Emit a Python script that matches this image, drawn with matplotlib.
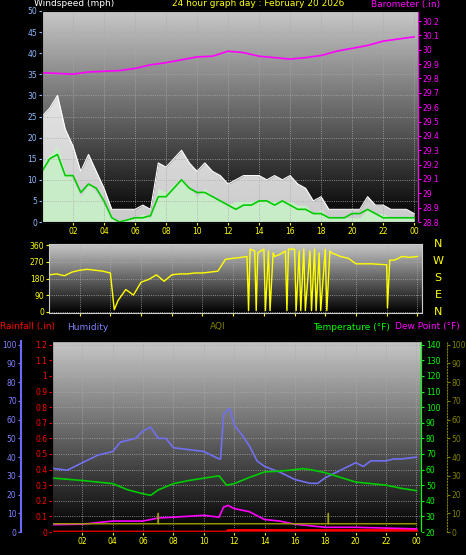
import numpy as np
import matplotlib.pyplot as plt

# ---- data ----
hrs = np.arange(0, 24.5, 0.5)
gust = [25, 27, 30, 22, 18, 12, 16, 12, 8, 3, 3, 3, 3, 4, 3, 14, 13, 15, 17, 14, 12, 14, 12, 11, 9,
        10, 11, 11, 11, 10, 11, 10, 11, 9, 8, 5, 6, 3, 3, 3, 3, 3, 6, 4, 4, 3, 3, 3, 2]
speed = [14, 16, 18, 12, 10, 6, 9, 7, 4, 1, 0, 1, 1, 2, 1, 8, 7, 9, 10, 8, 6, 8, 6, 5, 4,
         5, 5, 5, 5, 5, 5, 5, 5, 4, 4, 2, 3, 1, 1, 1, 1, 1, 3, 2, 2, 1, 1, 1, 1]
avg = [12, 15, 16, 11, 11, 7, 9, 8, 5, 1, 0, 0.5, 1, 1, 1.5, 6, 6, 8, 10, 8, 7, 7, 6, 5, 4,
       3, 4, 4, 5, 5, 4, 5, 4, 3, 3, 2, 2, 1, 1, 1, 2, 2, 3, 2, 1, 1, 1, 1, 1]
baro_h = np.arange(0, 25, 1)
baro = [29.84, 29.835, 29.83, 29.845, 29.85, 29.855, 29.87, 29.895, 29.91, 29.93, 29.95, 29.955,
        29.99, 29.98, 29.955, 29.945, 29.935, 29.945, 29.96, 29.99, 30.01, 30.03, 30.06, 30.075, 30.09]

dir_h = [0, 0.5, 1, 1.5, 2, 2.5, 3, 3.5, 4, 4.25, 4.5, 5, 5.5, 6, 6.5, 7, 7.5, 8, 8.5, 9, 9.5, 10, 10.5,
         11, 11.5, 12, 12.5, 12.9, 13.0, 13.1, 13.4, 13.5, 13.6, 14.0, 14.1, 14.3, 14.4, 14.6, 14.7, 15.0,
         15.4, 15.5, 15.6, 16.0, 16.1, 16.3, 16.4, 16.6, 16.7, 17.0, 17.1, 17.3, 17.4, 17.6, 17.7, 18.0,
         18.1, 18.3, 18.4, 19, 19.5, 20, 21, 22, 22.05, 22.2, 22.5, 23, 23.5, 24]
wdir = [200, 205, 195, 215, 225, 230, 225, 220, 210, 10, 60, 120, 90, 160, 175, 200, 165, 200, 205, 205,
        210, 210, 215, 220, 285, 290, 295, 300, 5, 340, 330, 5, 320, 340, 5, 330, 5, 320, 300, 310,
        330, 5, 340, 340, 5, 330, 5, 340, 5, 330, 5, 340, 5, 320, 5, 340, 5, 330, 320, 300, 290,
        260, 260, 255, 20, 280, 280, 300, 295, 300]

t_h = [0, 1, 1.5, 2, 3, 4, 4.5, 5.5, 6, 6.5, 7, 7.5, 8, 9, 10, 10.5, 11, 11.1, 11.3, 11.7, 12, 12.5,
       13, 13.5, 14, 15, 16, 16.5, 17, 17.5, 18, 19, 20, 20.5, 21, 22, 22.5, 23, 24]
humidity = [34, 33, 35, 37, 41, 43, 48, 50, 54, 56, 50, 50, 45, 44, 43, 41, 39, 39, 63, 66, 57, 52,
            46, 38, 35, 32, 28, 27, 26, 26, 29, 33, 37, 35, 38, 38, 39, 39, 40]
temp_h = [0, 2, 4, 5, 6, 6.5, 7, 8, 9, 10, 11, 11.5, 12, 13, 14, 15, 16, 16.5, 17, 18, 19, 20, 21, 22, 23, 24]
temp = [54.6, 53, 51, 47, 44.5, 43.5, 47, 51, 53, 54.5, 56, 50, 51, 55, 58.5, 59, 60, 60.6, 60, 58, 55,
        52, 51, 50, 48, 46.5]
dew_h = [0, 2, 4, 6, 7, 8, 10, 11, 11.3, 11.6, 12, 13, 14, 15, 16, 17, 18, 20, 22, 24]
dew = [24.7, 25, 27, 27, 29, 29.5, 30.7, 29.5, 36, 37, 35, 33, 28, 27, 25, 24, 23, 23, 22.5, 22]
rain_h = [0, 11.5, 11.6, 24]
rain = [0, 0, 0.01, 0.01]
aqi_h = [0, 6.99, 7.0, 7.01, 18.19, 18.2, 18.21, 24]
aqi = [4.4, 4.4, 10, 4.4, 4.4, 10, 4.4, 4.4]

xt = list(range(2, 25, 2))
xtl = ['%02d' % (h % 24) for h in xt]

W, H = 466, 555
FS = 5.5
fig = plt.figure(figsize=(W / 100, H / 100), dpi=100, facecolor='black')


def ax_at(l, t, r, b):
    return fig.add_axes([l / W, 1 - b / H, (r - l) / W, (b - t) / H])


grad = np.linspace(0.78, 0.0, 256).reshape(-1, 1)


def style(ax, xlim):
    ax.set_facecolor('black')
    ax.imshow(grad, cmap='gray', vmin=0, vmax=1, aspect='auto', extent=[0, 1, 0, 1],
              transform=ax.transAxes, zorder=0)
    ax.set_xlim(*xlim)
    ax.set_xticks(xt)
    ax.set_xticklabels(xtl, color='yellow', fontsize=FS)
    ax.grid(True, color='#aaaaaa', ls=':', lw=0.6)
    for s in ax.spines.values():
        s.set_color('#cccccc')
    ax.tick_params(colors='yellow', length=2, labelsize=FS, pad=1.5)


# ---- panel 1: wind + barometer ----
a1 = ax_at(42, 11, 418, 222)
style(a1, (0, 24.25))
a1.set_ylim(0, 50)
a1.set_yticks(range(0, 51, 5))
a1.tick_params(axis='y', colors='#8fb8ff')
a1.fill_between(hrs, 0, gust, color='white', alpha=0.8, lw=0)
a1.plot(hrs, gust, color='white', lw=0.8)
a1.fill_between(hrs, 0, speed, color='#c8f0c8', alpha=0.9, lw=0)
a1.plot(hrs, avg, color='#00cc00', lw=1.2)
b1 = a1.twinx()
b1.set_ylim(28.8, 30.27)
bt = np.round(np.arange(28.8, 30.25, 0.1), 1)
b1.set_yticks(bt)
b1.set_yticklabels(['%g' % v for v in bt])
b1.tick_params(colors='#ff00ff', length=2, labelsize=FS, pad=1.5)
b1.spines['right'].set_color('#ff00ff')
b1.plot(baro_h, baro, color='#ff00ff', lw=1.2)
fig.text(34 / W, 1 - 4 / H, 'Windspeed (mph)', color='white', fontsize=6.5, va='center')
fig.text(172 / W, 1 - 4 / H, '24 hour graph day : February 20 2026', color='yellow', fontsize=6.5, va='center')
fig.text(371 / W, 1 - 4 / H, 'Barometer (.in)', color='#ff00ff', fontsize=6.5, va='center')

# ---- panel 2: wind direction ----
a2 = ax_at(49, 244, 422, 313)
style(a2, (0, 24.3))
a2.set_ylim(-8, 368)
a2.set_yticks([0, 90, 180, 270, 360])
a2.set_xticklabels([])
a2.plot(dir_h, wdir, color='yellow', lw=1)
for i, c in enumerate(['N', 'W', 'S', 'E', 'N']):
    fig.text(438 / W, 1 - (244 + i * 17) / H, c, color='yellow', fontsize=8, ha='center', va='center')

# ---- labels row ----
for x, txt, col in [(0, 'Rainfall (.in)', 'red'), (67, 'Humidity', '#8080ff'), (210, 'AQI', '#808000'),
                    (313, 'Temperature (°F)', '#00ff00'), (395, 'Dew Point (°F)', '#ff00ff')]:
    fig.text(x / W, 1 - 327 / H, txt, color=col, fontsize=6.5, va='center')

# ---- panel 3: humidity / temp / rain ----
a3 = ax_at(52, 341, 421, 532)
style(a3, (0, 24.3))
a3.set_ylim(0, 1.2 * 1.02)
rt = np.round(np.arange(0, 1.21, 0.1), 1)
a3.set_yticks(rt)
a3.set_yticklabels(['%g' % v for v in rt])
a3.tick_params(axis='y', colors='red')
a3.spines['left'].set_color('red')
a3.spines['left'].set_linestyle('--')
a3.plot(rain_h, rain, color='red', lw=2, zorder=5)

hum = a3.twinx()
hum.spines['left'].set_position(('outward', 22))
hum.spines['left'].set_visible(True)
hum.spines['left'].set_color('#6a6aff')
hum.spines['left'].set_linewidth(1.5)
hum.yaxis.set_ticks_position('left')
hum.set_ylim(0, 102)
hum.set_yticks(range(0, 101, 10))
hum.tick_params(colors='#8080ff', length=2, labelsize=FS, pad=1.5)
hum.plot(t_h, humidity, color='#7070f0', lw=1.2)

tp = a3.twinx()
tp.set_ylim(20, 20 + 120 * 1.02)
tp.set_yticks(range(20, 141, 10))
tp.tick_params(colors='#00ff00', length=2, labelsize=FS, pad=1.5)
tp.spines['right'].set_color('#00ff00')
tp.plot(temp_h, temp, color='#00cc00', lw=1.2)
tp.plot(dew_h, dew, color='#ff00ff', lw=1.2)

aq = a3.twinx()
aq.spines['right'].set_position(('outward', 19))
aq.spines['right'].set_color('#808000')
aq.spines['right'].set_linestyle(':')
aq.set_ylim(0, 102)
aq.set_yticks(range(0, 101, 10))
aq.tick_params(colors='#808000', length=2, labelsize=FS, pad=1)
aq.plot(aqi_h, aqi, color='#a0a000', lw=1)

fig.savefig('out.png', dpi=100, facecolor='black')
